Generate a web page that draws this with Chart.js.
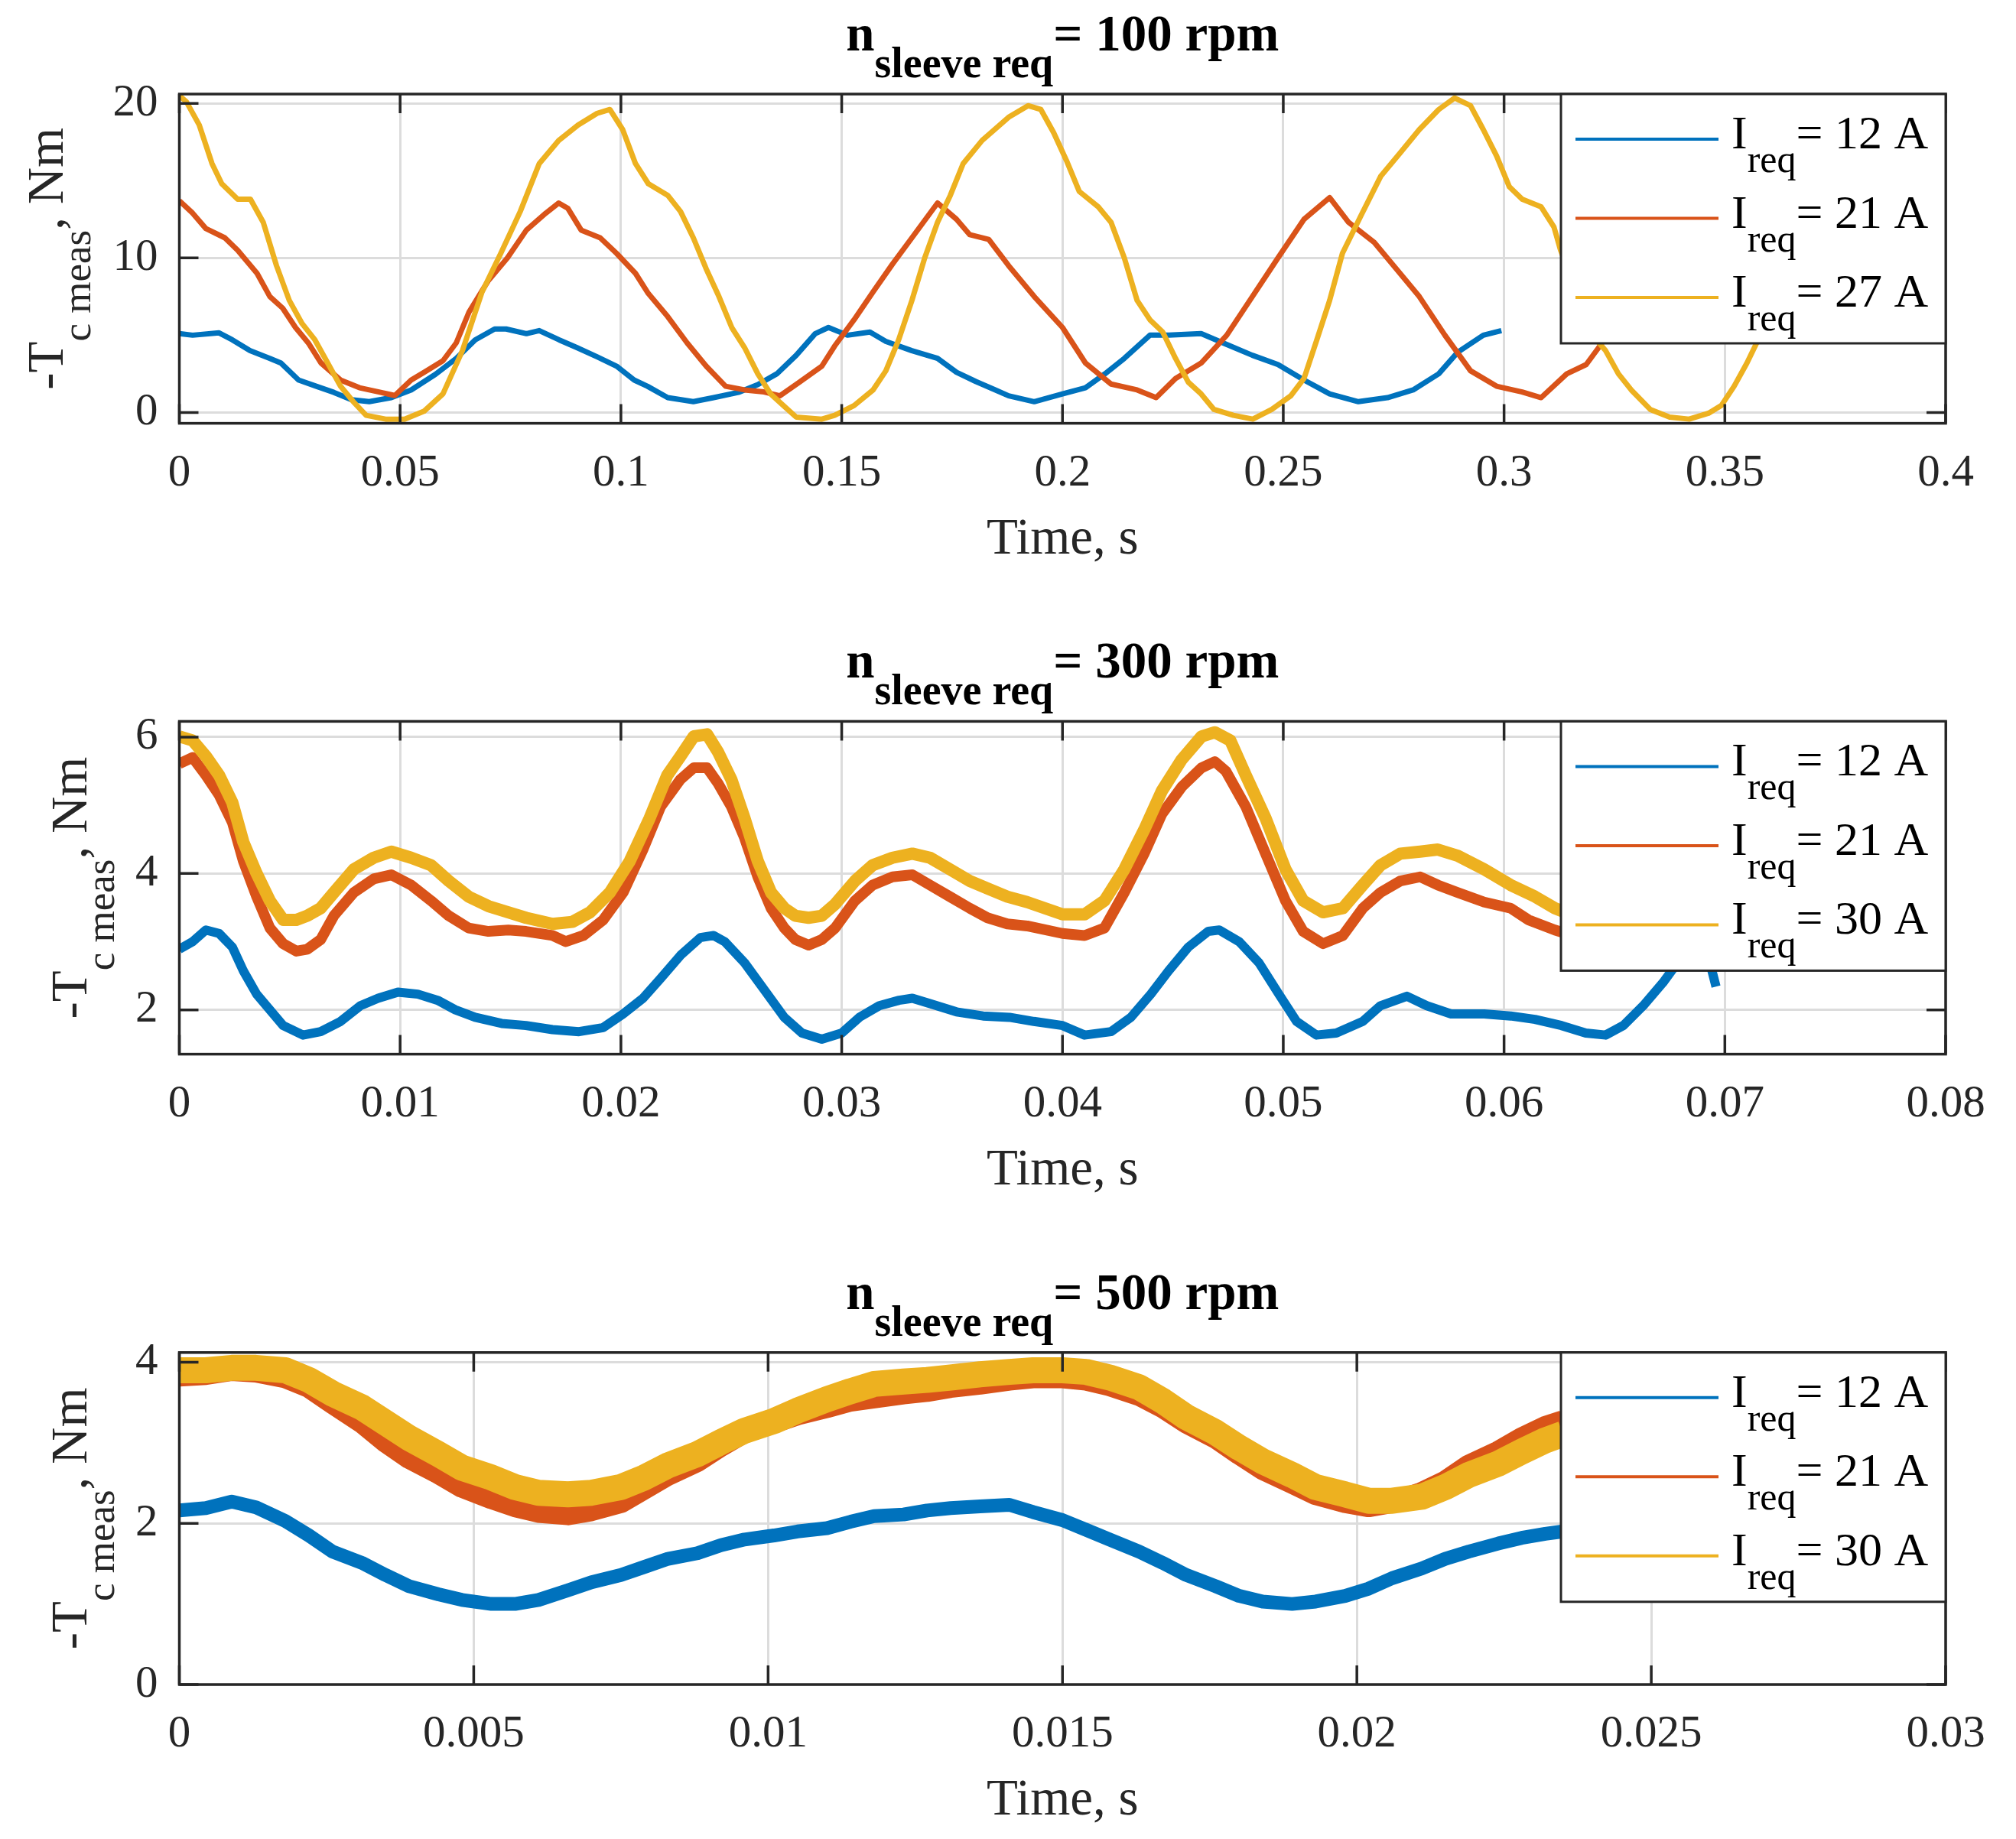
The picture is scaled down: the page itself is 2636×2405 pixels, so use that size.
<!DOCTYPE html>
<html>
<head>
<meta charset="utf-8">
<script src="https://cdn.jsdelivr.net/npm/chart.js@4.4.1/dist/chart.umd.min.js"></script>
<style>
  html, body { margin: 0; padding: 0; background: #fff; overflow: hidden; }
  canvas { position: absolute; left: 0; }
</style>
</head>
<body>
<canvas id="c1" width="2636" height="805" style="top:0px"></canvas>
<canvas id="c2" width="2636" height="805" style="top:800px"></canvas>
<canvas id="c3" width="2636" height="805" style="top:1605px"></canvas>
<script>
// sleeve speeds and requested currents per panel
const speeds = [100, 300, 500];
const currents1 = [12, 21, 27];
const currents2 = [12, 21, 30];
const currents3 = [12, 21, 30];

// ---- panel 1: 100 rpm ----
const p1BlueT = [0, 0.003, 0.009, 0.012, 0.016, 0.0205, 0.023, 0.027, 0.031, 0.035, 0.039, 0.043, 0.048, 0.0525, 0.058, 0.0627, 0.067, 0.0714, 0.074, 0.0786, 0.0815, 0.086, 0.090, 0.0946, 0.099, 0.103, 0.106, 0.1106, 0.1164, 0.121, 0.1266, 0.131, 0.1353, 0.1397, 0.144, 0.147, 0.1513, 0.1564, 0.16, 0.1659, 0.1717, 0.176, 0.1804, 0.1848, 0.1878, 0.1936, 0.2, 0.2052, 0.2096, 0.214, 0.2198, 0.2241, 0.2314, 0.2372, 0.243, 0.2488, 0.2547, 0.2605, 0.267, 0.2736, 0.2794, 0.2852, 0.2895, 0.2953, 0.2994];
const p1BlueV = [5.1, 5.0, 5.15, 4.7, 4.0, 3.5, 3.2, 2.1, 1.7, 1.3, 0.83, 0.7, 0.96, 1.46, 2.47, 3.5, 4.7, 5.4, 5.4, 5.1, 5.3, 4.7, 4.2, 3.6, 3.0, 2.1, 1.7, 0.96, 0.7, 0.96, 1.3, 1.8, 2.5, 3.7, 5.1, 5.5, 5.0, 5.2, 4.6, 4.0, 3.5, 2.6, 2.0, 1.46, 1.08, 0.7, 1.2, 1.6, 2.5, 3.5, 5.0, 5.0, 5.1, 4.4, 3.7, 3.1, 2.1, 1.2, 0.7, 0.96, 1.46, 2.5, 3.9, 5.0, 5.3];

const p1OrangeT = [0, 0.003, 0.006, 0.0103, 0.0132, 0.0176, 0.0205, 0.0234, 0.0263, 0.0292, 0.0321, 0.0365, 0.0408, 0.0452, 0.0488, 0.0525, 0.0554, 0.0597, 0.0627, 0.0656, 0.0699, 0.0743, 0.0786, 0.083, 0.0859, 0.088, 0.091, 0.0953, 0.099, 0.1033, 0.1062, 0.1106, 0.115, 0.1193, 0.1237, 0.128, 0.1324, 0.136, 0.1404, 0.1455, 0.1484, 0.1528, 0.1571, 0.1615, 0.1659, 0.1717, 0.176, 0.179, 0.1833, 0.1878, 0.1936, 0.2, 0.2052, 0.211, 0.2169, 0.2212, 0.2256, 0.2314, 0.2372, 0.243, 0.2488, 0.2547, 0.2605, 0.2648, 0.2706, 0.275, 0.2808, 0.2866, 0.2924, 0.2983, 0.3041, 0.3084, 0.3142, 0.3186, 0.3222];
const p1OrangeV = [13.7, 12.9, 11.9, 11.3, 10.5, 9.0, 7.5, 6.75, 5.5, 4.5, 3.2, 2.1, 1.6, 1.33, 1.1, 2.1, 2.6, 3.35, 4.5, 6.5, 8.5, 10.0, 11.8, 12.9, 13.55, 13.2, 11.8, 11.3, 10.3, 9.0, 7.7, 6.2, 4.5, 3.0, 1.7, 1.46, 1.33, 1.08, 1.96, 3.0, 4.3, 6.0, 7.8, 9.6, 11.3, 13.55, 12.5, 11.5, 11.2, 9.5, 7.5, 5.5, 3.2, 1.84, 1.46, 0.96, 2.2, 3.2, 5.0, 7.5, 10.0, 12.5, 13.9, 12.3, 11.0, 9.5, 7.5, 5.0, 2.7, 1.7, 1.33, 0.96, 2.5, 3.1, 4.5];

const p1YellowT = [0, 0.0016, 0.0045, 0.0074, 0.0096, 0.0132, 0.0161, 0.019, 0.022, 0.0249, 0.0278, 0.0307, 0.0336, 0.0365, 0.0394, 0.0423, 0.0467, 0.051, 0.0554, 0.0597, 0.0641, 0.0685, 0.0728, 0.0772, 0.0815, 0.0859, 0.0903, 0.0946, 0.0975, 0.1004, 0.1033, 0.1062, 0.1106, 0.1135, 0.1164, 0.1193, 0.1222, 0.1251, 0.128, 0.131, 0.1339, 0.1368, 0.1397, 0.1455, 0.1484, 0.1528, 0.1571, 0.16, 0.1629, 0.1659, 0.1688, 0.1717, 0.1746, 0.1775, 0.1818, 0.1878, 0.1922, 0.1951, 0.198, 0.2009, 0.2038, 0.2081, 0.211, 0.214, 0.2169, 0.2198, 0.2227, 0.2256, 0.2285, 0.2314, 0.2343, 0.2387, 0.2431, 0.2474, 0.2517, 0.2547, 0.2576, 0.2605, 0.2634, 0.2677, 0.2721, 0.2765, 0.2808, 0.2852, 0.2888, 0.2924, 0.2953, 0.2983, 0.3012, 0.3041, 0.3084, 0.3113, 0.3128, 0.317, 0.3215, 0.323, 0.3259, 0.3288, 0.3331, 0.3375, 0.3419, 0.3463, 0.3492, 0.3521, 0.355, 0.3572, 0.36];
const p1YellowV = [20.5, 20.1, 18.6, 16.1, 14.8, 13.8, 13.8, 12.3, 9.5, 7.25, 5.75, 4.7, 3.2, 1.7, 0.7, -0.18, -0.43, -0.43, 0.08, 1.2, 4.0, 7.76, 10.3, 13.0, 16.1, 17.6, 18.6, 19.35, 19.6, 18.3, 16.1, 14.8, 14.05, 13.0, 11.3, 9.3, 7.5, 5.5, 4.2, 2.5, 1.2, 0.45, -0.3, -0.43, -0.18, 0.45, 1.46, 2.7, 4.7, 7.25, 10.0, 12.3, 14.05, 16.1, 17.6, 19.1, 19.85, 19.6, 18.1, 16.3, 14.3, 13.3, 12.3, 10.0, 7.25, 6.0, 5.2, 3.5, 1.96, 1.2, 0.2, -0.18, -0.43, 0.2, 1.08, 2.2, 4.7, 7.25, 10.3, 12.8, 15.3, 16.8, 18.3, 19.6, 20.35, 19.85, 18.3, 16.6, 14.6, 13.8, 13.3, 12.0, 10.5, 7.5, 4.5, 4.0, 2.5, 1.46, 0.2, -0.3, -0.43, -0.05, 0.45, 1.7, 3.2, 4.5, 5.8];

// ---- panel 2: 300 rpm ----
const p2BlueT = [0, 0.0006, 0.0012, 0.0018, 0.0024, 0.0029, 0.0035, 0.0041, 0.0047, 0.0056, 0.0064, 0.0073, 0.0082, 0.009, 0.0099, 0.0108, 0.0117, 0.0125, 0.0134, 0.0146, 0.0157, 0.0169, 0.0181, 0.0192, 0.0201, 0.021, 0.0218, 0.0227, 0.0236, 0.0242, 0.0247, 0.0256, 0.0265, 0.0274, 0.0282, 0.0291, 0.03, 0.0308, 0.0317, 0.0326, 0.0332, 0.034, 0.0352, 0.0364, 0.0376, 0.0387, 0.04, 0.041, 0.0422, 0.0431, 0.044, 0.0448, 0.0457, 0.0466, 0.0471, 0.048, 0.0489, 0.0498, 0.0506, 0.0515, 0.0524, 0.0536, 0.0544, 0.0556, 0.0565, 0.0576, 0.0591, 0.0603, 0.0614, 0.0626, 0.0637, 0.0646, 0.0654, 0.0663, 0.0672, 0.0681, 0.069, 0.0696];
const p2BlueV = [2.89, 3.0, 3.17, 3.12, 2.92, 2.57, 2.23, 2.0, 1.77, 1.63, 1.68, 1.83, 2.06, 2.17, 2.26, 2.23, 2.14, 2.0, 1.89, 1.8, 1.77, 1.71, 1.68, 1.74, 1.94, 2.17, 2.46, 2.8, 3.06, 3.09, 3.0, 2.69, 2.29, 1.89, 1.66, 1.57, 1.66, 1.89, 2.06, 2.14, 2.17, 2.09, 1.97, 1.91, 1.89, 1.83, 1.77, 1.63, 1.68, 1.89, 2.23, 2.57, 2.92, 3.15, 3.17, 3.0, 2.69, 2.23, 1.83, 1.63, 1.66, 1.83, 2.06, 2.2, 2.06, 1.94, 1.94, 1.91, 1.86, 1.77, 1.66, 1.63, 1.77, 2.06, 2.4, 2.8, 3.1, 2.34];

const p2OrangeT = [0, 0.0006, 0.0012, 0.0018, 0.0024, 0.0029, 0.0035, 0.0041, 0.0047, 0.0053, 0.0058, 0.0064, 0.007, 0.0079, 0.0088, 0.0096, 0.0105, 0.0114, 0.0122, 0.0131, 0.014, 0.0149, 0.0157, 0.0169, 0.0175, 0.0183, 0.0192, 0.0201, 0.021, 0.0218, 0.0227, 0.0233, 0.0239, 0.0244, 0.025, 0.0256, 0.0262, 0.0268, 0.0274, 0.0279, 0.0285, 0.0291, 0.0297, 0.0306, 0.0314, 0.0323, 0.0332, 0.034, 0.0349, 0.0358, 0.0366, 0.0375, 0.0384, 0.04, 0.041, 0.0419, 0.0428, 0.0437, 0.0445, 0.0454, 0.0463, 0.0469, 0.0474, 0.0483, 0.0492, 0.0501, 0.0509, 0.0518, 0.0527, 0.0536, 0.0544, 0.0553, 0.0562, 0.057, 0.0579, 0.0591, 0.0603, 0.0611, 0.0623, 0.063];
const p2OrangeV = [5.61, 5.7, 5.44, 5.15, 4.75, 4.18, 3.66, 3.2, 2.97, 2.86, 2.89, 3.03, 3.38, 3.72, 3.92, 3.98, 3.83, 3.6, 3.38, 3.2, 3.15, 3.17, 3.15, 3.09, 3.0, 3.09, 3.32, 3.72, 4.35, 4.98, 5.38, 5.55, 5.55, 5.32, 4.98, 4.52, 3.95, 3.49, 3.2, 3.03, 2.95, 3.03, 3.2, 3.6, 3.83, 3.95, 3.98, 3.83, 3.66, 3.49, 3.35, 3.26, 3.23, 3.12, 3.09, 3.2, 3.72, 4.29, 4.87, 5.27, 5.55, 5.64, 5.5, 4.98, 4.29, 3.6, 3.15, 2.97, 3.09, 3.49, 3.72, 3.89, 3.95, 3.83, 3.72, 3.58, 3.49, 3.32, 3.17, 3.1];

const p2YellowT = [0, 0.0006, 0.0012, 0.0018, 0.0024, 0.0029, 0.0035, 0.0041, 0.0047, 0.0053, 0.0058, 0.0064, 0.007, 0.0079, 0.0088, 0.0096, 0.0105, 0.0114, 0.0122, 0.0131, 0.014, 0.0149, 0.0157, 0.0169, 0.0178, 0.0186, 0.0195, 0.0204, 0.0213, 0.0221, 0.0227, 0.0233, 0.0239, 0.0244, 0.025, 0.0256, 0.0262, 0.0268, 0.0274, 0.0279, 0.0285, 0.0291, 0.0297, 0.0306, 0.0314, 0.0323, 0.0332, 0.034, 0.0349, 0.0358, 0.0366, 0.0375, 0.0384, 0.04, 0.041, 0.0419, 0.0428, 0.0437, 0.0445, 0.0454, 0.0463, 0.0469, 0.0476, 0.0483, 0.0492, 0.0501, 0.0509, 0.0518, 0.0527, 0.0536, 0.0544, 0.0553, 0.0562, 0.057, 0.0579, 0.0591, 0.0603, 0.0614, 0.0623, 0.063];
const p2YellowV = [6.01, 5.95, 5.72, 5.44, 5.04, 4.46, 4.0, 3.6, 3.32, 3.32, 3.38, 3.49, 3.72, 4.06, 4.23, 4.32, 4.23, 4.12, 3.89, 3.66, 3.52, 3.43, 3.35, 3.26, 3.29, 3.43, 3.72, 4.18, 4.81, 5.44, 5.72, 6.01, 6.04, 5.78, 5.38, 4.81, 4.18, 3.72, 3.49, 3.38, 3.35, 3.38, 3.55, 3.89, 4.12, 4.23, 4.29, 4.23, 4.06, 3.89, 3.78, 3.66, 3.58, 3.4, 3.4, 3.6, 4.06, 4.64, 5.21, 5.67, 6.01, 6.07, 5.95, 5.44, 4.81, 4.06, 3.6, 3.43, 3.49, 3.83, 4.12, 4.29, 4.32, 4.35, 4.26, 4.06, 3.83, 3.66, 3.49, 3.4];

// ---- panel 3: 500 rpm (shared time base) ----
const p3T = [0, 0.00045, 0.00089, 0.0013, 0.0018, 0.0022, 0.0026, 0.0031, 0.0035, 0.0039, 0.0044, 0.0048, 0.0053, 0.0057, 0.0061, 0.0066, 0.007, 0.0075, 0.0079, 0.0083, 0.0088, 0.0092, 0.0096, 0.0101, 0.0105, 0.011, 0.0114, 0.0118, 0.0123, 0.0127, 0.0131, 0.0136, 0.0141, 0.0145, 0.015, 0.0154, 0.0158, 0.0163, 0.0167, 0.0171, 0.0176, 0.018, 0.0184, 0.0189, 0.0193, 0.0198, 0.0202, 0.0206, 0.0211, 0.0215, 0.0219, 0.0224, 0.0228, 0.0232, 0.0235];
const p3BlueV = [2.16, 2.19, 2.27, 2.2, 2.03, 1.85, 1.65, 1.51, 1.36, 1.22, 1.12, 1.05, 1.0, 1.0, 1.05, 1.17, 1.27, 1.36, 1.46, 1.56, 1.63, 1.73, 1.8, 1.85, 1.9, 1.94, 2.02, 2.09, 2.11, 2.16, 2.19, 2.21, 2.23, 2.14, 2.04, 1.92, 1.8, 1.65, 1.51, 1.36, 1.22, 1.1, 1.03, 1.0, 1.03, 1.1, 1.19, 1.32, 1.44, 1.56, 1.65, 1.75, 1.82, 1.87, 1.9];
const p3OrangeV = [3.83, 3.85, 3.9, 3.88, 3.81, 3.69, 3.49, 3.25, 3.01, 2.81, 2.62, 2.45, 2.31, 2.21, 2.14, 2.11, 2.16, 2.26, 2.43, 2.6, 2.77, 2.96, 3.13, 3.25, 3.35, 3.44, 3.52, 3.56, 3.61, 3.64, 3.69, 3.73, 3.78, 3.81, 3.81, 3.78, 3.71, 3.59, 3.44, 3.25, 3.06, 2.86, 2.67, 2.5, 2.36, 2.26, 2.21, 2.26, 2.38, 2.52, 2.72, 2.89, 3.06, 3.2, 3.27];
const p3YellowV = [3.9, 3.9, 3.93, 3.93, 3.9, 3.78, 3.61, 3.44, 3.25, 3.06, 2.86, 2.69, 2.57, 2.45, 2.38, 2.36, 2.38, 2.45, 2.57, 2.72, 2.86, 3.01, 3.15, 3.27, 3.4, 3.54, 3.64, 3.73, 3.76, 3.78, 3.81, 3.85, 3.88, 3.9, 3.9, 3.88, 3.81, 3.69, 3.52, 3.32, 3.13, 2.94, 2.77, 2.6, 2.45, 2.36, 2.28, 2.28, 2.33, 2.45, 2.6, 2.74, 2.89, 3.03, 3.11];

const COLORS = ['#0072BD', '#D95319', '#EDB120'];
const INK = '#262626';
const SERIF = '"Liberation Serif", "Times New Roman", serif';
const TICK = 25;

function pts(t, v) {
  return t.map((x, i) => ({ x: x, y: v[i] }));
}

// draw a run of text pieces, some lowered as subscripts
function richText(ctx, parts, x, y, align) {
  let total = 0;
  parts.forEach(p => { ctx.font = p.font; p.w = ctx.measureText(p.t).width; total += p.w; });
  let cx = align === 'center' ? x - total / 2 : x;
  ctx.textAlign = 'left';
  ctx.textBaseline = 'alphabetic';
  parts.forEach(p => { ctx.font = p.font; ctx.fillText(p.t, cx, y + (p.dy || 0)); cx += p.w; });
}

const decor = {
  id: 'decor',
  afterDatasetsDraw(chart, args, o) {
    const ctx = chart.ctx, a = chart.chartArea;
    const xs = chart.scales.x, ys = chart.scales.y;
    ctx.save();

    // box and inward ticks
    ctx.strokeStyle = INK;
    ctx.lineWidth = 3.5;
    ctx.strokeRect(a.left, a.top, a.right - a.left, a.bottom - a.top);
    ctx.beginPath();
    xs.ticks.forEach(t => {
      const px = xs.getPixelForValue(t.value);
      ctx.moveTo(px, a.bottom); ctx.lineTo(px, a.bottom - TICK);
      ctx.moveTo(px, a.top); ctx.lineTo(px, a.top + TICK);
    });
    ys.ticks.forEach(t => {
      const py = ys.getPixelForValue(t.value);
      ctx.moveTo(a.left, py); ctx.lineTo(a.left + TICK, py);
      ctx.moveTo(a.right, py); ctx.lineTo(a.right - TICK, py);
    });
    ctx.stroke();

    // legend
    const bw = 503, bh = 326;
    const bx = a.right - bw, by = a.top;
    ctx.fillStyle = '#fff';
    ctx.fillRect(bx, by, bw, bh);
    ctx.lineWidth = 3;
    ctx.strokeRect(bx, by, bw, bh);
    o.currents.forEach((c, i) => {
      const ry = by + 59 + i * 103.5;
      ctx.strokeStyle = COLORS[i];
      ctx.lineWidth = 4;
      ctx.beginPath();
      ctx.moveTo(bx + 19, ry);
      ctx.lineTo(bx + 206, ry);
      ctx.stroke();
      ctx.fillStyle = '#000';
      richText(ctx, [
        { t: 'I', font: '62px ' + SERIF },
        { t: 'req', font: '50px ' + SERIF, dy: 31 },
        { t: '= ' + c + ' A', font: '62px ' + SERIF }
      ], bx + 223, ry + 12, 'left');
    });

    // title
    const cx = (a.left + a.right) / 2;
    ctx.fillStyle = '#000';
    richText(ctx, [
      { t: 'n', font: 'bold 67px ' + SERIF },
      { t: 'sleeve req', font: 'bold 56px ' + SERIF, dy: 35 },
      { t: '= ' + o.speed + ' rpm', font: 'bold 67px ' + SERIF }
    ], cx, a.top - 57, 'center');

    // x label
    ctx.fillStyle = INK;
    richText(ctx, [{ t: 'Time, s', font: '67px ' + SERIF }], cx, a.bottom + 170, 'center');

    // y label (rotated)
    ctx.translate(a.left - o.yLabelGap, (a.top + a.bottom) / 2);
    ctx.rotate(-Math.PI / 2);
    richText(ctx, [
      { t: '-T', font: '67px ' + SERIF },
      { t: 'c meas', font: '53px ' + SERIF, dy: 36 },
      { t: ', Nm', font: '67px ' + SERIF }
    ], 0, 0, 'center');

    ctx.restore();
  }
};

function makePanel(id, cfg) {
  const datasets = cfg.series.map((s, i) => ({
    data: pts(s[0], s[1]),
    borderColor: COLORS[i],
    borderWidth: cfg.widths[i],
    pointRadius: 0,
    tension: 0,
    fill: false,
    order: 3 - i,
    borderJoinStyle: 'round',
    borderCapStyle: 'butt'
  }));
  const tickFont = { family: SERIF, size: 59 };
  return new Chart(document.getElementById(id), {
    type: 'line',
    data: { datasets: datasets },
    options: {
      responsive: false,
      animation: false,
      devicePixelRatio: 1,
      layout: { padding: { left: 84.5, right: 92, top: cfg.top, bottom: 805 - cfg.bottom - 120 } },
      plugins: {
        legend: { display: false },
        tooltip: { enabled: false },
        decor: { currents: cfg.currents, speed: cfg.speed, yLabelGap: cfg.yLabelGap }
      },
      scales: {
        x: {
          type: 'linear',
          min: 0, max: cfg.xMax,
          border: { display: false },
          grid: { color: '#dcdcdc', lineWidth: 3, drawTicks: false },
          ticks: {
            stepSize: cfg.xStep, includeBounds: false, autoSkip: false, maxRotation: 0,
            color: INK, font: tickFont, padding: 30,
            callback: v => String(+v.toFixed(6))
          },
          afterFit: s => { s.height = 120; }
        },
        y: {
          type: 'linear',
          min: cfg.yMin, max: cfg.yMax,
          border: { display: false },
          grid: { color: '#dcdcdc', lineWidth: 3, drawTicks: false },
          ticks: {
            stepSize: cfg.yStep, includeBounds: false,
            color: INK, font: tickFont, padding: 28,
            callback: v => String(+v.toFixed(6))
          },
          afterFit: s => { s.width = 150; }
        }
      }
    },
    plugins: [decor]
  });
}

makePanel('c1', {
  top: 123, bottom: 553.6, xMax: 0.4, xStep: 0.05, yMin: -0.7, yMax: 20.6, yStep: 10,
  yLabelGap: 153, speed: speeds[0], currents: currents1, widths: [7, 7, 7],
  series: [[p1BlueT, p1BlueV], [p1OrangeT, p1OrangeV], [p1YellowT, p1YellowV]]
});
makePanel('c2', {
  top: 143.4, bottom: 578.6, xMax: 0.08, xStep: 0.01, yMin: 1.35, yMax: 6.23, yStep: 2,
  yLabelGap: 121.5, speed: speeds[1], currents: currents2, widths: [12, 14, 16],
  series: [[p2BlueT, p2BlueV], [p2OrangeT, p2OrangeV], [p2YellowT, p2YellowV]]
});
makePanel('c3', {
  top: 163.8, bottom: 598, xMax: 0.03, xStep: 0.005, yMin: 0, yMax: 4.12, yStep: 2,
  yLabelGap: 121.5, speed: speeds[2], currents: currents3, widths: [18, 28, 34],
  series: [[p3T, p3BlueV], [p3T, p3OrangeV], [p3T, p3YellowV]]
});
</script>
</body>
</html>
